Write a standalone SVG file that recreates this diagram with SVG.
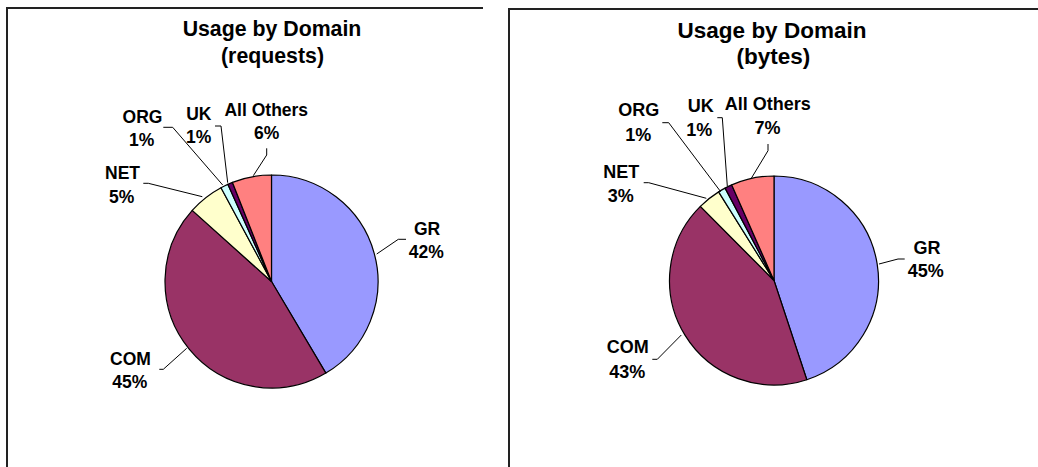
<svg xmlns="http://www.w3.org/2000/svg" width="1038" height="467" viewBox="0 0 1038 467">
<style>
.bg{fill:#fff}
.frame{fill:none;stroke:#222;stroke-width:2}
.sl{stroke:#000;stroke-width:1.2;stroke-linejoin:round}
.gr{fill:#9999FF}.com{fill:#993366}.net{fill:#FFFFCC}.org{fill:#CCFFFF}.uk{fill:#660066}.oth{fill:#FF8080}
.ld{fill:none;stroke:#000;stroke-width:1}
text{font-family:"Liberation Sans",Arial,sans-serif;font-weight:bold;fill:#000;text-anchor:middle}
.t1{font-size:21.3px}.t2{font-size:22.5px}
.l1{font-size:17.5px}.l2{font-size:18px}
</style>
<rect class="bg" x="0" y="0" width="1038" height="467"/>
<g id="frames">
<polyline class="frame" points="7,467 7,8 483,8"/>
<polyline class="frame" points="509,467 509,9 1038,9"/>
</g>
<g id="chart-requests">
<g id="title-requests">
<text class="t1" x="272" y="36">Usage by Domain</text>
<text class="t1" x="272.5" y="63">(requests)</text>
</g>
<g id="slices-requests">
<path id="req-gr" class="sl gr" d="M271.5,281.5 L271.5,175 A106.5,106.5 0 0 1 325.87,373.08 Z"/>
<path id="req-com" class="sl com" d="M271.5,281.5 L325.87,373.08 A106.5,106.5 0 0 1 192.23,210.38 Z"/>
<path id="req-net" class="sl net" d="M271.5,281.5 L192.23,210.38 A106.5,106.5 0 0 1 221.01,187.73 Z"/>
<path id="req-org" class="sl org" d="M271.5,281.5 L221.01,187.73 A106.5,106.5 0 0 1 227.85,184.36 Z"/>
<path id="req-uk" class="sl uk" d="M271.5,281.5 L227.85,184.36 A106.5,106.5 0 0 1 232.47,182.41 Z"/>
<path id="req-oth" class="sl oth" d="M271.5,281.5 L232.47,182.41 A106.5,106.5 0 0 1 271.5,175 Z"/>
</g>
<g id="connectors-requests">
<polyline class="ld" points="406,239.3 398.3,239.3 376.7,254"/>
<polyline class="ld" points="159.3,369.3 163.3,369.3 186.7,348.3"/>
<polyline class="ld" points="143.3,183.3 148.3,183.3 202.3,196.7"/>
<polyline class="ld" points="163.3,127.3 172.7,127.3 222.7,185"/>
<polyline class="ld" points="215,126 221,126 227.7,182.7"/>
<polyline class="ld" points="266.7,148.3 266.7,155 253.3,175.7"/>
</g>
<g id="labels-requests">
<text class="l1" x="427" y="235">GR</text><text class="l1" x="426.3" y="258">42%</text>
<text class="l1" x="130.5" y="365">COM</text><text class="l1" x="129.7" y="388.3">45%</text>
<text class="l1" x="122.5" y="179.3">NET</text><text class="l1" x="121.7" y="203.3">5%</text>
<text class="l1" x="142.5" y="122.7">ORG</text><text class="l1" x="141.7" y="146">1%</text>
<text class="l1" x="198.8" y="120">UK</text><text class="l1" x="198.7" y="142.7">1%</text>
<text class="l1" x="266.3" y="116">All Others</text><text class="l1" x="266.7" y="139.3">6%</text>
</g>
</g>
<g id="chart-bytes">
<g id="title-bytes">
<text class="t2" x="772" y="38.3">Usage by Domain</text>
<text class="t2" x="773.3" y="64">(bytes)</text>
</g>
<g id="slices-bytes">
<path id="byt-gr" class="sl gr" d="M774,280.5 L774,176 A104.5,104.5 0 0 1 806.81,379.71 Z"/>
<path id="byt-com" class="sl com" d="M774,280.5 L806.81,379.71 A104.5,104.5 0 0 1 700.37,206.35 Z"/>
<path id="byt-net" class="sl net" d="M774,280.5 L700.37,206.35 A104.5,104.5 0 0 1 718.63,191.88 Z"/>
<path id="byt-org" class="sl org" d="M774,280.5 L718.63,191.88 A104.5,104.5 0 0 1 725.10,188.14 Z"/>
<path id="byt-uk" class="sl uk" d="M774,280.5 L725.10,188.14 A104.5,104.5 0 0 1 731.75,184.92 Z"/>
<path id="byt-oth" class="sl oth" d="M774,280.5 L731.75,184.92 A104.5,104.5 0 0 1 774,176 Z"/>
</g>
<g id="connectors-bytes">
<polyline class="ld" points="904.7,259 898,259 879,264"/>
<polyline class="ld" points="652.3,359.3 657.3,359.3 681.3,335"/>
<polyline class="ld" points="643.7,182.7 648.7,182.7 706.3,198.3"/>
<polyline class="ld" points="662.3,122.7 668.7,122.7 720.7,191.7"/>
<polyline class="ld" points="717.3,117.7 722.3,117.7 727.3,186"/>
<polyline class="ld" points="768,144 768,150.7 751.3,178.3"/>
</g>
<g id="labels-bytes">
<text class="l2" x="927" y="254">GR</text><text class="l2" x="925.7" y="277.3">45%</text>
<text class="l2" x="627.7" y="353.3">COM</text><text class="l2" x="627.2" y="377.7">43%</text>
<text class="l2" x="621.3" y="178.3">NET</text><text class="l2" x="620.7" y="201.7">3%</text>
<text class="l2" x="638.8" y="116">ORG</text><text class="l2" x="638.3" y="140.7">1%</text>
<text class="l2" x="700.7" y="111.7">UK</text><text class="l2" x="699.2" y="136">1%</text>
<text class="l2" x="767.8" y="110">All Others</text><text class="l2" x="767.5" y="134">7%</text>
</g>
</g>
</svg>
